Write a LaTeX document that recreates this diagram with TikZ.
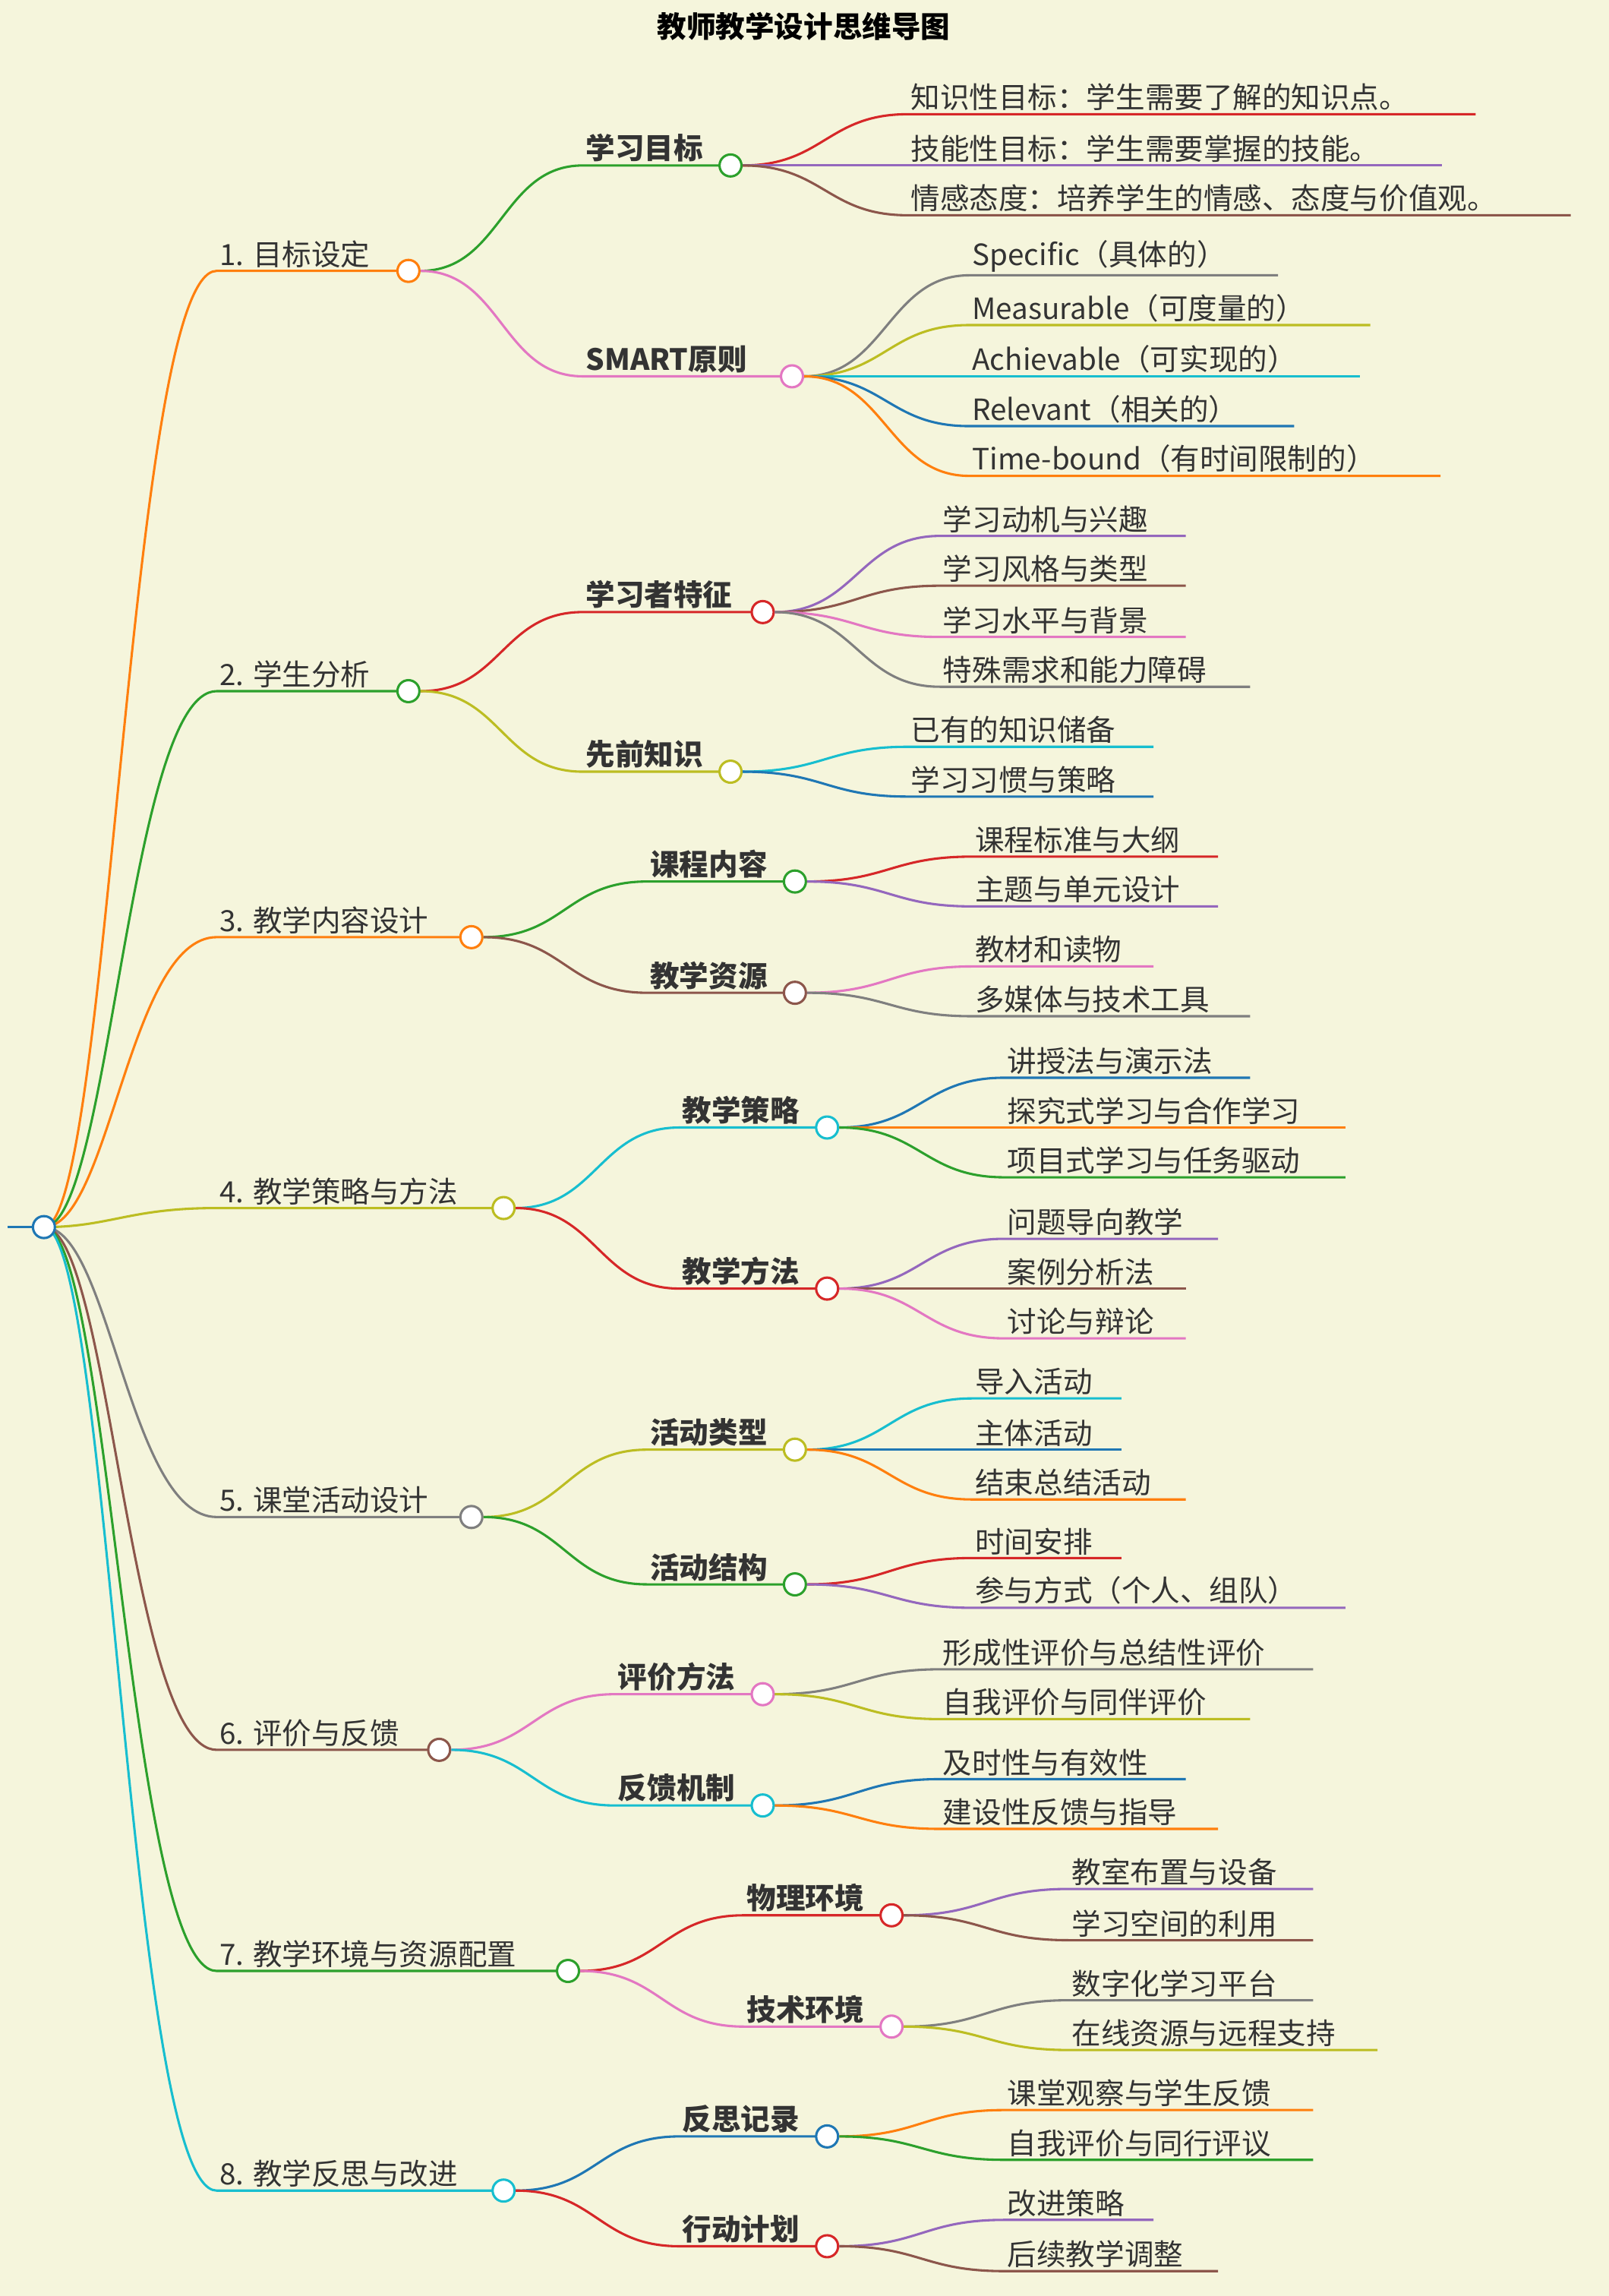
\documentclass[tikz,border=0pt]{standalone}
\usepackage{fontspec}
\setmainfont{Noto Sans CJK SC}
\definecolor{bg}{HTML}{F5F5DC}
\definecolor{cB}{HTML}{1F77B4}\definecolor{cO}{HTML}{FF7F0E}\definecolor{cG}{HTML}{2CA02C}
\definecolor{cR}{HTML}{D62728}\definecolor{cP}{HTML}{9467BD}\definecolor{cN}{HTML}{8C564B}
\definecolor{cK}{HTML}{E377C2}\definecolor{cY}{HTML}{7F7F7F}\definecolor{cL}{HTML}{BCBD22}
\definecolor{cC}{HTML}{17BECF}
\tikzset{edge/.style={line width=1.6pt},
 dot/.style={circle,draw,fill=white,line width=1.6pt,minimum size=15pt,inner sep=0pt},
 leaf/.style={font=\fontsize{20}{22}\selectfont,text=black!80,inner sep=2pt},
 mid/.style={font=\fontsize{20}{22}\selectfont\bfseries,text=black!80,inner sep=2pt}}
\newcommand\Leaf[7]{\coordinate (#1a) at (#3,#4);
 \draw[#6,edge] (#2.east) .. controls +(55,0) and +(-55,0) .. (#1a) -- (#5,#4);
 \node[leaf,anchor=south west] (#1) at (#1a) {#7};}
\newcommand\Mid[7]{\coordinate (#1a) at (#3,#4);
 \draw[#6,edge] (#2.east) .. controls +(55,0) and +(-55,0) .. (#1a) -- (#5,#4);
 \node[dot,draw=#6] (#1) at (#5,#4) {};
 \node[mid,anchor=south west] (#1t) at (#1a) {#7};}
\newcommand\Top[6]{\coordinate (#1a) at (148,#3);
 \draw[#5,edge] (#2) .. controls +(45,0) and +(-60,0) .. (#1a) -- (#4,#3);
 \node[dot,draw=#5] (#1) at (#4,#3) {};
 \node[leaf,anchor=south west] (#1t) at (#1a) {#6};}
\begin{document}
\begin{tikzpicture}[x=1pt,y=-1pt]
\fill[bg] (0,0) rectangle (1099,1568);
\useasboundingbox (0,0) rectangle (1099,1568);
\node[font=\fontsize{20}{22}\selectfont\bfseries] (title) at (549,18) {教师教学设计思维导图};
\coordinate (r0) at (5,838);
\coordinate (root) at (30,838);
\draw[cB,edge] (r0) -- (root);
\Top{A}{root}{185}{279}{cO}{1. 目标设定}
\Top{B}{root}{472}{279}{cG}{2. 学生分析}
\Top{C}{root}{640}{322}{cO}{3. 教学内容设计}
\Top{D}{root}{825}{344}{cL}{4. 教学策略与方法}
\Top{E}{root}{1036}{322}{cY}{5. 课堂活动设计}
\Top{F}{root}{1195}{300}{cN}{6. 评价与反馈}
\Top{G}{root}{1346}{388}{cG}{7. 教学环境与资源配置}
\Top{H}{root}{1496}{344}{cC}{8. 教学反思与改进}
\node[dot,draw=cB] (rootc) at (root) {};
% level 2
\Mid{A1}{A}{398}{113}{499}{cG}{学习目标}
\Mid{A2}{A}{398}{257}{541}{cK}{SMART原则}
\Mid{B1}{B}{398}{418}{521}{cR}{学习者特征}
\Mid{B2}{B}{398}{527}{499}{cL}{先前知识}
\Mid{C1}{C}{442}{602}{543}{cG}{课程内容}
\Mid{C2}{C}{442}{678}{543}{cN}{教学资源}
\Mid{D1}{D}{464}{770}{565}{cC}{教学策略}
\Mid{D2}{D}{464}{880}{565}{cR}{教学方法}
\Mid{E1}{E}{442}{990}{543}{cL}{活动类型}
\Mid{E2}{E}{442}{1082}{543}{cG}{活动结构}
\Mid{F1}{F}{420}{1157}{521}{cK}{评价方法}
\Mid{F2}{F}{420}{1233}{521}{cC}{反馈机制}
\Mid{G1}{G}{508}{1308}{609}{cR}{物理环境}
\Mid{G2}{G}{508}{1384}{609}{cK}{技术环境}
\Mid{H1}{H}{464}{1459}{565}{cB}{反思记录}
\Mid{H2}{H}{464}{1534}{565}{cR}{行动计划}
% leaves
\Leaf{a11}{A1}{620}{78}{1008}{cR}{知识性目标：学生需要了解的知识点。}
\Leaf{a12}{A1}{620}{113}{985}{cP}{技能性目标：学生需要掌握的技能。}
\Leaf{a13}{A1}{620}{147}{1073}{cN}{情感态度：培养学生的情感、态度与价值观。}
\Leaf{a21}{A2}{662}{188}{873}{cY}{Specific（具体的）}
\Leaf{a22}{A2}{662}{222}{936}{cL}{Measurable（可度量的）}
\Leaf{a23}{A2}{662}{257}{929}{cC}{Achievable（可实现的）}
\Leaf{a24}{A2}{662}{291}{884}{cB}{Relevant（相关的）}
\Leaf{a25}{A2}{662}{325}{984}{cO}{Time-bound（有时间限制的）}
\Leaf{b11}{B1}{642}{366}{810}{cP}{学习动机与兴趣}
\Leaf{b12}{B1}{642}{400}{810}{cN}{学习风格与类型}
\Leaf{b13}{B1}{642}{435}{810}{cK}{学习水平与背景}
\Leaf{b14}{B1}{642}{469}{854}{cY}{特殊需求和能力障碍}
\Leaf{b21}{B2}{620}{510}{788}{cC}{已有的知识储备}
\Leaf{b22}{B2}{620}{544}{788}{cB}{学习习惯与策略}
\Leaf{c11}{C1}{664}{585}{832}{cR}{课程标准与大纲}
\Leaf{c12}{C1}{664}{619}{832}{cP}{主题与单元设计}
\Leaf{c21}{C2}{664}{660}{788}{cK}{教材和读物}
\Leaf{c22}{C2}{664}{694}{854}{cY}{多媒体与技术工具}
\Leaf{d11}{D1}{686}{736}{854}{cB}{讲授法与演示法}
\Leaf{d12}{D1}{686}{770}{919}{cO}{探究式学习与合作学习}
\Leaf{d13}{D1}{686}{804}{919}{cG}{项目式学习与任务驱动}
\Leaf{d21}{D2}{686}{846}{832}{cP}{问题导向教学}
\Leaf{d22}{D2}{686}{880}{810}{cN}{案例分析法}
\Leaf{d23}{D2}{686}{914}{810}{cK}{讨论与辩论}
\Leaf{e11}{E1}{664}{955}{766}{cC}{导入活动}
\Leaf{e12}{E1}{664}{990}{766}{cB}{主体活动}
\Leaf{e13}{E1}{664}{1024}{810}{cO}{结束总结活动}
\Leaf{e21}{E2}{664}{1064}{766}{cR}{时间安排}
\Leaf{e22}{E2}{664}{1098}{919}{cP}{参与方式（个人、组队）}
\Leaf{f11}{F1}{642}{1140}{897}{cY}{形成性评价与总结性评价}
\Leaf{f12}{F1}{642}{1174}{854}{cL}{自我评价与同伴评价}
\Leaf{f21}{F2}{642}{1215}{810}{cB}{及时性与有效性}
\Leaf{f22}{F2}{642}{1249}{832}{cO}{建设性反馈与指导}
\Leaf{g11}{G1}{730}{1290}{897}{cP}{教室布置与设备}
\Leaf{g12}{G1}{730}{1325}{897}{cN}{学习空间的利用}
\Leaf{g21}{G2}{730}{1366}{897}{cY}{数字化学习平台}
\Leaf{g22}{G2}{730}{1400}{941}{cL}{在线资源与远程支持}
\Leaf{h11}{H1}{686}{1441}{897}{cO}{课堂观察与学生反馈}
\Leaf{h12}{H1}{686}{1475}{897}{cG}{自我评价与同行评议}
\Leaf{h21}{H2}{686}{1516}{788}{cP}{改进策略}
\Leaf{h22}{H2}{686}{1551}{832}{cN}{后续教学调整}
\end{tikzpicture}
\end{document}
